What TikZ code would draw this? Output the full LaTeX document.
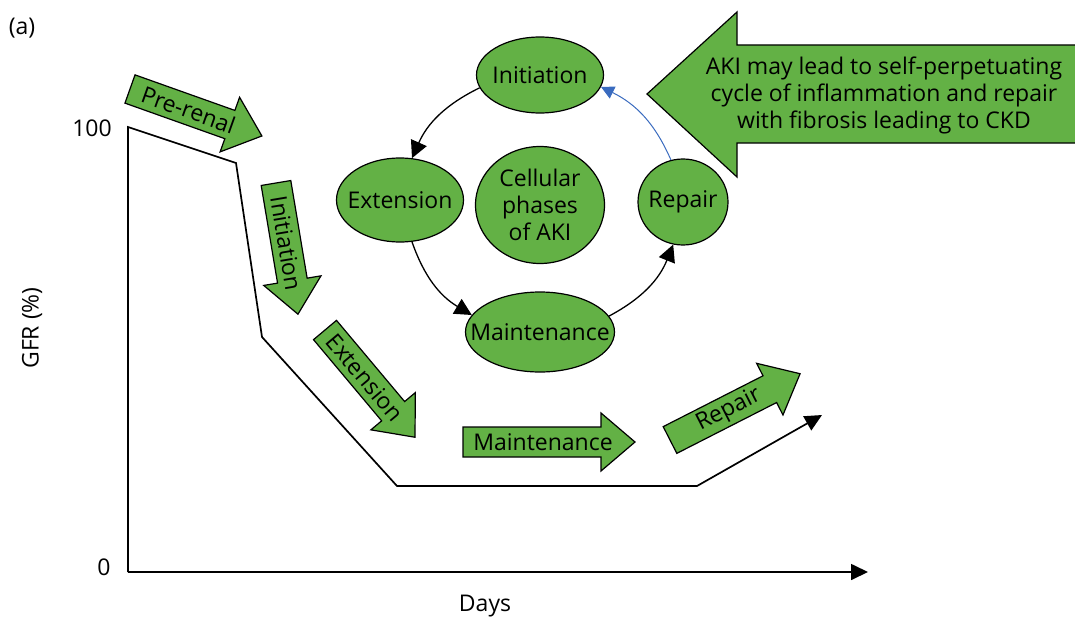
\documentclass[tikz,border=0pt]{standalone}
\usepackage{fontspec}
\setmainfont{Open Sans}
\usetikzlibrary{arrows.meta,shapes.geometric}

\definecolor{akigreen}{RGB}{99,177,69}
\definecolor{akiblue}{RGB}{58,107,191}

\tikzset{
  phase/.style={ellipse, draw, fill=akigreen, line width=1.2pt, inner xsep=-30pt, inner ysep=0pt},
  stage/.style={draw, fill=akigreen, line width=1.2pt, line join=miter},
  cyc/.style={line width=1.3pt, -{Triangle[length=17pt,width=17pt]}},
  axisline/.style={line width=1.7pt}
}

% one green arrow: name, tail, angle, length, text position, text
\newcommand{\stagearrow}[6]{%
  \begin{scope}[shift={(#2)}, rotate=#3]
    \draw[stage] (0,-15) -- ({#4-34},-15) -- ({#4-34},-29) -- (#4,0)
      -- ({#4-34},29) -- ({#4-34},15) -- (0,15) -- cycle;
    \node[transform shape] (#1) at (#5,0) {#6};
  \end{scope}}

\begin{document}
\begin{tikzpicture}[x=1pt, y=-1pt, font=\fontsize{23}{27}\selectfont]

    \useasboundingbox (0,0) rectangle (1075,618);

    % axes and GFR curve
    \coordinate (o) at (128,572);
    \coordinate (top) at (128,127);
    \coordinate (xend) at (868,572);
    \draw[axisline, -{Triangle[length=17pt,width=16pt]}] (o) -- (xend);
    \draw[axisline, -{Triangle[length=17pt,width=16pt]}] (o) -- (top) -- (236,163) -- (262,337)
        -- (397,486) -- (697,486) -- (822,415);

    \node (panel) at (22,28) {(a)};
    \node (ymax) at (92,128) {100};
    \node (ymin) at (104,567) {0};
    \node[rotate=90] (ylab) at (32,328) {GFR (\%)};
    \node (xlab) at (485,606) {Days};

    % clinical phases
    \stagearrow{prerenal}{130,89}{-19.6}{140}{62}{Pre-renal}
    \stagearrow{initiation}{276,183}{-80.5}{133}{61}{Initiation}
    \stagearrow{extension}{325,330}{-50}{140}{62}{Extension}
    \stagearrow{maintenance}{463,442}{0}{172}{80}{Maintenance}
    \stagearrow{repair}{670,440}{27}{146}{66}{Repair}

    % cellular phases
    \node[phase, minimum width=127pt, minimum height=76pt] (ini) at (540,75) {Initiation};
    \node[phase, minimum width=127pt, minimum height=84pt] (ext) at (400,200) {Extension};
    \node[phase, minimum width=129pt, minimum height=117pt, align=center] (cell) at (540,205) {Cellular\\phases\\of AKI};
    \node[phase, minimum width=149pt, minimum height=80pt] (maint) at (540,332) {Maintenance};
    \node[phase, minimum width=90pt, minimum height=86pt] (rep) at (683,202) {Repair};

    \draw[cyc] (ini.192) to[bend right=20] (ext.74);
    \draw[cyc] (ext.286) to[bend right=20] (maint.166);
    \draw[cyc] (maint.13) to[bend right=20] (rep.257);
    \draw[cyc, akiblue, line width=1pt, -{Triangle[length=13pt,width=13pt]}] (rep.106) to[bend right=20] (ini.349);

    % CKD note
    \begin{scope}
      \clip (0,0) rectangle (1075,618);
      \draw[stage] (647,94) -- (737,12) -- (737,45) -- (1090,45) -- (1090,143)
          -- (737,143) -- (737,177) -- cycle;
    \end{scope}
    \node[align=center] (note) at (884,95) {AKI may lead to self-perpetuating\\cycle of inflammation and repair\\with fibrosis leading to CKD};

\end{tikzpicture}
\end{document}
